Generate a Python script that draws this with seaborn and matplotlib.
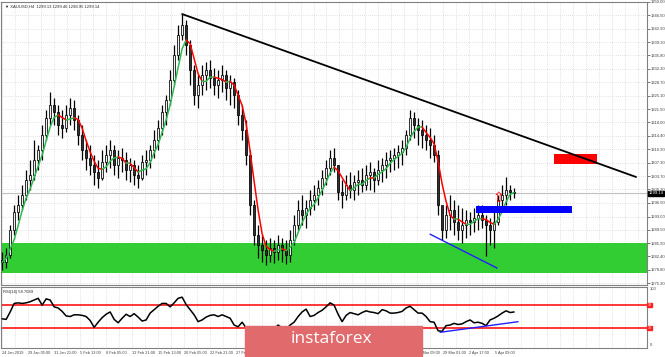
import numpy as np
import pandas as pd
import matplotlib
matplotlib.use("Agg")
import matplotlib.pyplot as plt
from matplotlib.patches import Rectangle
import seaborn as sns

# ---- data (one candle every ~2.5 bars) ----
highs = [1283.5, 1284.6, 1290.7, 1296.0, 1298.7, 1301.4, 1305.3, 1308.0, 1313.3, 1312.0,
         1317.3, 1321.3, 1326.1, 1324.5, 1322.6, 1321.3, 1322.6, 1324.5, 1324.0, 1320.0,
         1317.3, 1313.3, 1312.0, 1309.3, 1308.0, 1310.7, 1312.0, 1313.3, 1312.0, 1310.7,
         1311.2, 1310.1, 1308.5, 1308.0, 1306.7, 1309.3, 1310.7, 1312.0, 1316.0, 1318.6,
         1322.6, 1325.3, 1331.9, 1338.6, 1343.9, 1346.8, 1345.2, 1339.9, 1333.3, 1330.6,
         1333.3, 1334.1, 1334.6, 1332.5, 1331.9, 1333.3, 1331.9, 1330.6, 1329.8, 1326.6,
         1322.6, 1318.6, 1310.7, 1297.4, 1290.7, 1288.1, 1286.7, 1287.3, 1286.7, 1288.1,
         1287.3, 1286.7, 1289.4, 1293.4, 1297.4, 1298.7, 1297.4, 1300.0, 1301.4, 1302.7,
         1305.3, 1308.0, 1310.7, 1311.2, 1306.7, 1302.7, 1304.0, 1304.8, 1304.0, 1305.3,
         1305.9, 1306.7, 1307.5, 1305.9, 1308.0, 1308.5, 1310.1, 1310.7, 1311.2, 1312.0,
         1313.3, 1316.0, 1321.3, 1320.8, 1319.2, 1318.6, 1317.3, 1316.5, 1314.7, 1310.7,
         1294.7, 1296.0, 1298.7, 1297.4, 1296.0, 1295.3, 1294.7, 1294.2, 1295.3, 1296.0,
         1296.0, 1293.4, 1292.6, 1294.7, 1298.7, 1301.4, 1303.5, 1301.4, 1300.6]
lows = [1278.8, 1279.3, 1281.9, 1288.1, 1292.1, 1294.7, 1297.4, 1300.0, 1302.7, 1305.3,
        1308.0, 1313.3, 1317.3, 1317.3, 1314.7, 1313.9, 1315.4, 1317.3, 1316.0, 1312.0,
        1308.0, 1305.3, 1304.0, 1301.4, 1300.6, 1302.7, 1304.8, 1305.9, 1304.0, 1303.2,
        1304.8, 1302.7, 1302.2, 1301.4, 1300.6, 1302.7, 1304.0, 1305.9, 1308.5, 1310.7,
        1314.7, 1317.3, 1322.6, 1327.9, 1334.6, 1339.9, 1335.9, 1327.9, 1322.6, 1321.8,
        1325.3, 1326.6, 1327.1, 1325.3, 1324.5, 1326.1, 1324.0, 1322.6, 1321.8, 1317.3,
        1313.3, 1306.7, 1293.4, 1285.4, 1282.0, 1280.9, 1280.1, 1280.9, 1280.6, 1281.4,
        1280.9, 1280.4, 1280.9, 1285.4, 1289.4, 1290.7, 1289.9, 1293.4, 1294.7, 1296.0,
        1298.7, 1301.4, 1304.0, 1304.8, 1297.4, 1295.3, 1297.4, 1297.9, 1297.4, 1298.7,
        1299.5, 1300.0, 1300.0, 1299.5, 1301.4, 1302.2, 1303.2, 1304.8, 1305.3, 1305.9,
        1306.7, 1309.3, 1313.3, 1313.9, 1312.0, 1311.2, 1310.7, 1308.5, 1307.5, 1293.4,
        1286.7, 1287.3, 1289.4, 1288.1, 1286.7, 1285.9, 1287.3, 1288.1, 1288.9, 1289.4,
        1289.9, 1282.5, 1285.4, 1284.6, 1290.7, 1294.7, 1296.0, 1297.4, 1297.9]
closes = [1280.9, 1282.8, 1289.4, 1294.2, 1296.0, 1298.7, 1302.7, 1304.0, 1308.0, 1310.7,
          1314.7, 1319.2, 1322.6, 1320.8, 1317.3, 1316.5, 1320.0, 1321.8, 1318.6, 1314.7,
          1310.7, 1308.5, 1306.7, 1304.8, 1303.2, 1307.5, 1309.3, 1310.7, 1306.7, 1308.5,
          1308.0, 1305.3, 1306.7, 1304.0, 1303.2, 1307.5, 1308.0, 1310.7, 1313.3, 1316.5,
          1320.8, 1324.0, 1329.3, 1335.9, 1341.2, 1343.9, 1338.6, 1331.9, 1325.3, 1327.9,
          1330.6, 1331.9, 1329.8, 1327.9, 1329.3, 1330.6, 1327.1, 1328.7, 1325.3, 1320.0,
          1316.0, 1309.3, 1296.0, 1288.1, 1285.4, 1284.1, 1282.8, 1284.6, 1283.5, 1285.4,
          1284.1, 1282.8, 1286.7, 1290.7, 1294.7, 1293.4, 1295.3, 1297.4, 1298.7, 1300.6,
          1303.2, 1305.9, 1308.5, 1306.7, 1299.5, 1298.7, 1301.4, 1300.0, 1302.2, 1302.7,
          1301.4, 1304.0, 1304.8, 1302.7, 1305.3, 1306.7, 1308.0, 1308.5, 1309.3, 1310.1,
          1311.2, 1314.7, 1319.2, 1317.3, 1316.0, 1314.7, 1313.3, 1312.0, 1309.3, 1296.0,
          1289.4, 1293.4, 1294.7, 1291.5, 1289.4, 1290.7, 1292.1, 1291.5, 1292.6, 1293.4,
          1292.1, 1290.7, 1289.4, 1291.5, 1297.4, 1298.7, 1300.0, 1299.5, 1299.14]
first_open = 1281.5

rsi_values = [46, 45, 58, 73, 74, 73, 74, 76, 79, 82, 70, 81, 79, 67, 65, 59, 51, 50, 53, 53,
              52, 50, 43, 31, 40, 48, 54, 58, 45, 39, 47, 54, 50, 55, 49, 42, 44, 56, 62, 68,
              73, 73, 67, 74, 82, 84, 71, 62, 53, 41, 44, 49, 52, 53, 50, 53, 50, 47, 35, 32,
              40, 30, 18, 15, 22, 25, 22, 30, 28, 35, 30, 27, 35, 40, 50, 58, 63, 50, 52, 57,
              61, 67, 74, 70, 54, 41, 52, 57, 55, 53, 57, 60, 58, 57, 55, 62, 60, 56, 56, 57,
              59, 65, 68, 62, 56, 56, 50, 41, 40, 25, 24, 34, 35, 38, 36, 37, 41, 44, 39, 40,
              38, 34, 44, 47, 51, 56, 60, 57, 58]

price_ticks = [1275.30, 1278.80, 1282.40, 1285.90, 1289.50, 1293.00, 1296.60, 1300.20,
               1303.70, 1307.30, 1310.90, 1314.40, 1318.00, 1321.50, 1325.10, 1328.70,
               1332.20, 1335.80, 1339.30, 1342.90, 1346.50, 1350.00]
date_labels = ["24 Jan 2019", "29 Jan 05:00", "31 Jan 21:00", "5 Feb 13:00", "8 Feb 05:00",
               "12 Feb 21:00", "15 Feb 13:00", "20 Feb 05:00", "22 Feb 21:00", "27 Feb 13:00",
               "4 Mar 05:00", "6 Mar 21:00", "11 Mar 17:00", "14 Mar 09:00", "19 Mar 01:00",
               "21 Mar 17:00", "26 Mar 09:00", "29 Mar 01:00", "2 Apr 17:00", "5 Apr 09:00"]

# drawn objects (candle index, price)
trend_line = ([45, 158.5], [1346.8, 1303.5])
support_line = ([107, 123.75], [1288.3, 1279.3])
rsi_line = ([109.5, 129], [22.3, 40.9])
support_zone = (1278.0, 1285.9)
blue_box = (118.5, 142.5, 1293.9, 1295.8)
red_box = (138, 148.75, 1306.9, 1309.6)
last_price = 1299.14

df = pd.DataFrame({"high": highs, "low": lows, "close": closes, "rsi": rsi_values})
df["open"] = [first_open] + closes[:-1]
df["idx"] = np.arange(len(df))
df["ma"] = df["close"].rolling(4, min_periods=1).mean()

sns.set_style("white")
plt.rcParams["font.family"] = ["Liberation Sans", "DejaVu Sans"]

fig = plt.figure(figsize=(6.65, 3.57), dpi=100)
ax = fig.add_axes([0.001, 0.2017, 0.972, 0.7927])
ax_rsi = fig.add_axes([0.001, 0.0252, 0.972, 0.1708])

xmax = 161.25
step = 6.4875
grid_x = np.arange(0, xmax, step / 2)

for a in (ax, ax_rsi):
    a.set_xlim(-0.375, xmax)
    for gx in grid_x:
        a.axvline(gx, color="#c8c8c8", lw=0.5, ls=(0, (1, 2)), zorder=0)
    for s in a.spines.values():
        s.set_color("#808080")
        s.set_linewidth(0.8)

# price panel
ax.set_ylim(1274.8, 1350.0)
for py in price_ticks:
    ax.axhline(py, color="#c8c8c8", lw=0.5, ls=(0, (1, 2)), zorder=0)

ax.axhspan(*support_zone, color="#32CD32", zorder=1, lw=0)
ax.axhline(last_price, color="#c0c0c0", lw=0.8, zorder=1)

ax.vlines(df["idx"], df["low"], df["high"], color="black", lw=0.9, zorder=3)
bull = df["close"] >= df["open"]
body_lo = df[["open", "close"]].min(axis=1)
body_h = (df["close"] - df["open"]).abs().clip(lower=0.3)
ax.bar(df["idx"][bull], body_h[bull], bottom=body_lo[bull], width=0.55,
       color="#f0f0f0", edgecolor="black", lw=0.55, zorder=4)
ax.bar(df["idx"][~bull], body_h[~bull], bottom=body_lo[~bull], width=0.55,
       color="#303030", edgecolor="black", lw=0.55, zorder=4)

# moving average, green when rising, red when falling
ma = df["ma"].values
up = np.diff(ma) >= 0
start = 0
for i in range(1, len(up) + 1):
    if i == len(up) or up[i] != up[start]:
        col = "#2eb84f" if up[start] else "#ff0000"
        ax.plot(df["idx"][start:i + 1], ma[start:i + 1], color=col, lw=1.1, zorder=5)
        start = i

ax.add_patch(Rectangle((blue_box[0], blue_box[2]), blue_box[1] - blue_box[0],
                       blue_box[3] - blue_box[2], color="#0000ff", zorder=6, lw=0))
ax.add_patch(Rectangle((red_box[0], red_box[2]), red_box[1] - red_box[0],
                       red_box[3] - red_box[2], color="#ff0000", zorder=6, lw=0))
ax.plot(*trend_line, color="black", lw=1.3, zorder=7)
ax.plot(*support_line, color="#2020ff", lw=1.0, zorder=7)
ax.text(124, 1297.8, "\u21e7", color="red", fontsize=10, ha="center", va="center",
        family=["DejaVu Sans"], zorder=8)

ax.yaxis.tick_right()
ax.set_yticks(price_ticks)
ax.set_yticklabels([f"{p:.2f}" for p in price_ticks], fontsize=3.0)
ax.tick_params(axis="y", length=2, pad=1, colors="#404040", width=0.5)
ax.set_xticks([])
ax.text(1.003, last_price, f"{last_price:.2f}", transform=ax.get_yaxis_transform(),
        fontsize=3.0, color="white", va="center", ha="left",
        bbox=dict(boxstyle="square,pad=0.15", fc="black", ec="black"), zorder=9, clip_on=False)
ax.text(0.006, 0.992, "\u25bc XAUUSD,H4  1299.13 1299.46 1298.95 1299.14",
        transform=ax.transAxes, fontsize=3.0, va="top", ha="left")

# RSI panel
ax_rsi.set_ylim(-5.3, 101.8)
sns.lineplot(data=df, x="idx", y="rsi", color="black", lw=1.1, ax=ax_rsi, zorder=3)
ax_rsi.axhline(70, color="#ff0000", lw=1.1, zorder=2)
ax_rsi.axhline(30, color="#ff0000", lw=1.1, zorder=2)
ax_rsi.plot(*rsi_line, color="#2020ff", lw=1.0, zorder=4)
ax_rsi.set_xlabel("")
ax_rsi.set_ylabel("")
ax_rsi.yaxis.tick_right()
ax_rsi.set_yticks([0, 100])
ax_rsi.set_yticklabels(["0", "100"], fontsize=3.0)
ax_rsi.tick_params(axis="y", length=0, pad=2, colors="#404040")
for lvl in (70, 30):
    ax_rsi.text(1.001, lvl, str(lvl), transform=ax_rsi.get_yaxis_transform(), fontsize=2.6,
                color="white", va="center", ha="left", clip_on=False,
                bbox=dict(boxstyle="square,pad=0.1", fc="#ff2020", ec="#ff2020"))
ax_rsi.text(0.004, 0.95, "RSI(14) 58.7089", transform=ax_rsi.transAxes, fontsize=3.0,
            va="top", ha="left")

date_pos = np.arange(len(date_labels)) * step
ax_rsi.set_xticks(date_pos)
ax_rsi.set_xticklabels(date_labels, fontsize=2.8, ha="left")
ax_rsi.tick_params(axis="x", length=2, pad=0.5, colors="#404040", width=0.5)
ax_rsi.set_xlim(-0.375, xmax)

# instaforex watermark
fig.add_artist(Rectangle((245 / 665, 0), 177 / 665, 31 / 357, transform=fig.transFigure,
                         color="#e06a6c", zorder=10))
fig.text(331 / 665, 1 - 339 / 357, "instaforex", ha="center", va="center", color="white",
         fontsize=12.5, family=["Open Sans", "DejaVu Sans"], zorder=11)

fig.savefig("out.png", dpi=100)
